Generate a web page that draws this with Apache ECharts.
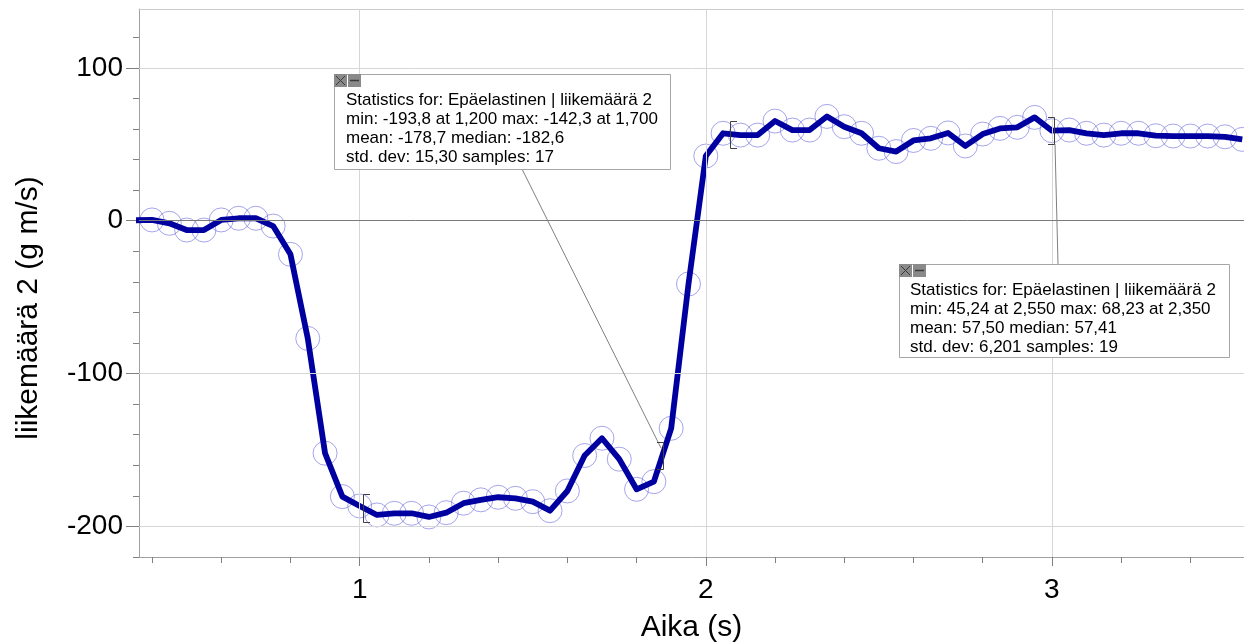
<!DOCTYPE html>
<html>
<head>
<meta charset="utf-8">
<script src="https://cdn.jsdelivr.net/npm/echarts@6/dist/echarts.min.js"></script>
<style>
html,body{margin:0;padding:0;background:#fff;}
#chart{width:1244px;height:643px;}
</style>
</head>
<body>
<div id="chart"></div>
<script>
// ---- data ----
const timeValues = [0.35,0.40,0.45,0.50,0.55,0.60,0.65,0.70,0.75,0.80,0.85,0.90,0.95,1.00,1.05,1.10,1.15,1.20,1.25,1.30,1.35,1.40,1.45,1.50,1.55,1.60,1.65,1.70,1.75,1.80,1.85,1.90,1.95,2.00,2.05,2.10,2.15,2.20,2.25,2.30,2.35,2.40,2.45,2.50,2.55,2.60,2.65,2.70,2.75,2.80,2.85,2.90,2.95,3.00,3.05,3.10,3.15,3.20,3.25,3.30,3.35,3.40,3.45,3.50,3.55];
const momentumValues = [0.3,0.5,-1.7,-6.1,-6.1,0.5,1.6,1.6,-3.5,-22,-77,-152.1,-180.5,-186.6,-192.5,-191.4,-191.4,-193.8,-191.0,-184.8,-182.6,-180.9,-181.6,-183.8,-189.7,-176.8,-153.6,-142.3,-156.0,-175.7,-170.7,-135.8,-41.4,42.3,57.2,56.0,56.0,65.2,59.3,59.3,68.23,61.5,57.2,47.4,45.24,52.5,53.9,57.41,48.9,56.7,60.4,61.1,67.6,58.9,59.3,57.2,56.0,57.2,57.2,55.6,55.4,55.4,55.4,54.9,53.2];
const xMajorTicks = [1,2,3];
const xMinorTicks = [0.4,0.6,0.8,1.0,1.2,1.4,1.6,1.8,2.0,2.2,2.4,2.6,2.8,3.0,3.2,3.4];
const yMajorTicks = [-200,-100,0,100];
const yMinorTicks = [-220,-200,-180,-160,-140,-120,-100,-80,-60,-40,-20,0,20,40,60,80,100,120];
const xGridValues = [1,2,3];
const yGridValues = [-200,-100,100];
const xTitle = 'Aika (s)';
const yTitle = 'liikemäärä 2 (g m/s)';
const stats1Lines = ['Statistics for: Epäelastinen | liikemäärä 2','min: -193,8 at 1,200 max: -142,3 at 1,700','mean: -178,7 median: -182,6','std. dev: 15,30 samples: 17'];
const stats2Lines = ['Statistics for: Epäelastinen | liikemäärä 2','min: 45,24 at 2,550 max: 68,23 at 2,350','mean: 57,50 median: 57,41','std. dev: 6,201 samples: 19'];

const FONT = '"Liberation Sans", Arial, sans-serif';
const seriesData = timeValues.map((t, i) => [t, momentumValues[i]]);

const chart = echarts.init(document.getElementById('chart'), null, {renderer: 'canvas'});

function statBox(left, top, width, height, textLeft, lineYs, lines) {
  const els = [];
  els.push({type:'rect', z:100, shape:{x:left+0.5, y:top+0.5, width:width, height:height},
    style:{fill:'#fff', stroke:'#a6a6a6', lineWidth:1}});
  els.push({type:'rect', z:101, shape:{x:left, y:top, width:13, height:13}, style:{fill:'#8a8a8a'}});
  els.push({type:'line', z:102, shape:{x1:left+2, y1:top+2, x2:left+11, y2:top+11}, style:{stroke:'#3a3a3a', lineWidth:1}});
  els.push({type:'line', z:102, shape:{x1:left+11, y1:top+2, x2:left+2, y2:top+11}, style:{stroke:'#3a3a3a', lineWidth:1}});
  els.push({type:'rect', z:101, shape:{x:left+14, y:top, width:13, height:13}, style:{fill:'#8a8a8a'}});
  els.push({type:'line', z:102, shape:{x1:left+16, y1:top+6.5, x2:left+25, y2:top+6.5}, style:{stroke:'#3a3a3a', lineWidth:1.5}});
  lines.forEach((txt, i) => {
    els.push({type:'text', z:103, x:textLeft, y:lineYs[i],
      style:{text:txt, font:'17px ' + FONT, fill:'#000', textAlign:'left', textVerticalAlign:'middle'}});
  });
  return els;
}

function bracket(pts) {
  return {type:'polyline', z:99, shape:{points:pts}, style:{stroke:'#404040', lineWidth:1, fill:null}};
}

const graphics = [].concat(
  [
    {type:'line', z:98, shape:{x1:522, y1:169, x2:661, y2:448}, style:{stroke:'#808080', lineWidth:1}},
    {type:'line', z:98, shape:{x1:1055, y1:144, x2:1058, y2:264}, style:{stroke:'#808080', lineWidth:1}},
    bracket([[370,494.5],[363.5,494.5],[363.5,522.5],[370,522.5]]),
    bracket([[657,442.5],[663.5,442.5],[663.5,469.5],[657,469.5]]),
    bracket([[737,121.5],[730.5,121.5],[730.5,148.5],[737,148.5]]),
    bracket([[1048,117.5],[1054.5,117.5],[1054.5,144.5],[1048,144.5]])
  ],
  statBox(334, 74, 336, 95, 346, [100, 119.2, 138.5, 157.5], stats1Lines),
  statBox(899, 264, 330, 93, 910, [290, 309.2, 328.5, 347.5], stats2Lines),
  [{type:'text', z:100, x:29, y:308, rotation:Math.PI/2,
    style:{text:yTitle, font:'30px ' + FONT, fill:'#000', textAlign:'center', textVerticalAlign:'middle'}}]
);

const X_MIN = 0.3624, X_MAX = 3.555, Y_MIN = -220, Y_MAX = 138.5;

const option = {
  animation: false,
  backgroundColor: '#fff',
  grid: {left: 139, top: 9, right: 0, bottom: 86, containLabel: false, outerBoundsMode: 'none'},
  xAxis: [
    {type:'value', min:X_MIN, max:X_MAX, position:'bottom',
      axisLine:{show:true, onZero:false, lineStyle:{color:'#a0a0a0', width:1}},
      axisTick:{show:true, customValues:xMinorTicks, length:6, lineStyle:{color:'#808080'}},
      axisLabel:{show:false}, splitLine:{show:false}},
    {type:'value', min:X_MIN, max:X_MAX, position:'bottom',
      axisLine:{show:false, onZero:false},
      axisTick:{show:true, customValues:xMajorTicks, length:9, lineStyle:{color:'#808080'}},
      axisLabel:{show:true, customValues:xMajorTicks, fontSize:28, fontFamily:FONT, color:'#000', margin:19},
      splitLine:{show:false},
      name:xTitle, nameLocation:'middle', nameGap:56,
      nameTextStyle:{fontSize:30, fontFamily:FONT, color:'#000'}},
    {type:'value', min:X_MIN, max:X_MAX, position:'top',
      axisLine:{show:true, onZero:false, lineStyle:{color:'#cccccc', width:1}},
      axisTick:{show:false}, axisLabel:{show:false}, splitLine:{show:false}}
  ],
  yAxis: [
    {type:'value', min:Y_MIN, max:Y_MAX, position:'left',
      axisLine:{show:true, onZero:false, lineStyle:{color:'#a0a0a0', width:1}},
      axisTick:{show:true, customValues:yMinorTicks, length:6, lineStyle:{color:'#808080'}},
      axisLabel:{show:false}, splitLine:{show:false}},
    {type:'value', min:Y_MIN, max:Y_MAX, position:'left',
      axisLine:{show:false, onZero:false},
      axisTick:{show:true, customValues:yMajorTicks, length:13, lineStyle:{color:'#808080'}},
      axisLabel:{show:true, customValues:yMajorTicks, fontSize:28, fontFamily:FONT, color:'#000', margin:16},
      splitLine:{show:false}}
  ],
  graphic: graphics,
  series: [
    {type:'scatter', name:'points', xAxisIndex:0, yAxisIndex:0, data:seriesData, z:2,
      symbol:'circle', symbolSize:24, silent:true,
      itemStyle:{color:'rgba(0,0,0,0)', borderColor:'rgba(95,95,220,0.7)', borderWidth:1},
      markLine:{silent:true, symbol:['none','none'], label:{show:false}, animation:false,
        lineStyle:{color:'#d6d6d6', type:'solid', width:1},
        data: xGridValues.map(v => ({xAxis:v}))
          .concat(yGridValues.map(v => ({yAxis:v})))
          .concat([{yAxis:0, lineStyle:{color:'#7a7a7a', type:'solid', width:1}}])
      }},
    {type:'line', name:'liikemäärä 2', xAxisIndex:0, yAxisIndex:0, data:seriesData, z:3,
      showSymbol:false, symbol:'none', clip:true, silent:true,
      lineStyle:{color:'#0000a0', width:5.8, join:'round'}}
  ]
};
chart.setOption(option);
</script>
</body>
</html>
